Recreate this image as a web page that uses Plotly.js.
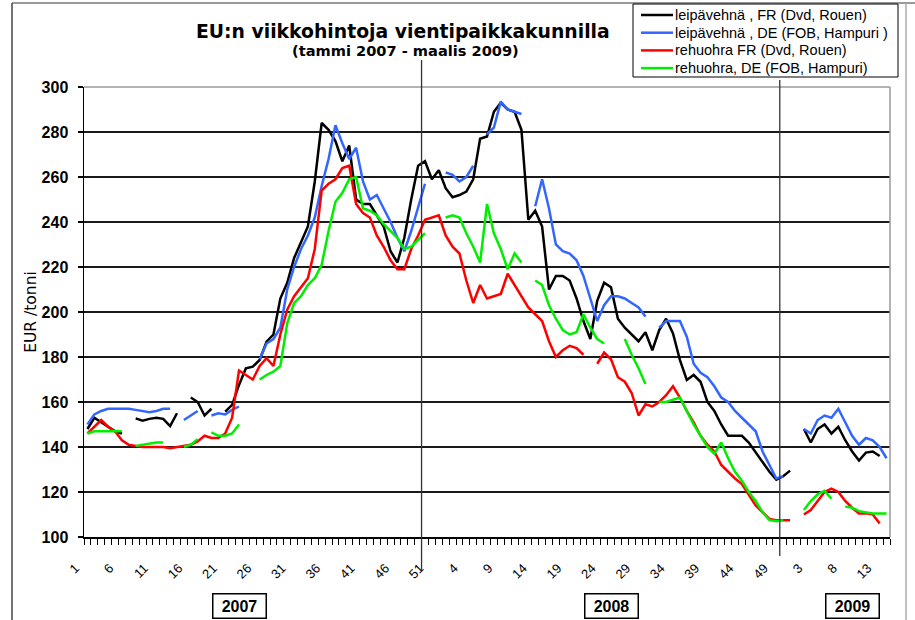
<!DOCTYPE html>
<html><head><meta charset="utf-8">
<script src="https://cdn.plot.ly/plotly-3.0.1.min.js"></script>
<style>html,body{margin:0;padding:0;background:#fff;} #chart{width:915px;height:620px;}</style>
</head><body><div id="chart"></div>
<script>
// Series names (legend)
const seriesNames = [
  'leipävehnä , FR (Dvd, Rouen)',
  'leipävehnä , DE (FOB, Hampuri )',
  'rehuohra FR (Dvd, Rouen)',
  'rehuohra, DE (FOB, Hampuri)'
];
const seriesColors = ['#000000', '#3366ff', '#ff0000', '#00ee00'];

// Weekly prices EUR/tonni, consecutive weeks Jan 2007 - Mar 2009 (null = no quote)
const wheatFR = [
  148,153,151,149,147,146,null,152.7,151.7,152.5,153,152.5,149.3,155,null,162,160,154,157,null,
  155.7,158.7,167.6,175,175.7,178.7,186.8,190,206,213,224,231,238,258,284,281,276,267,274,250,
  248,248,243,238,227,222,233,250,265,267,259,263,255,251,252,253.5,259,277,278,289,
  293,290,289,281,241,245,238,210,216,216,214,206,196,188,205,213,211,197,193,190,
  187,191,183,192,197,190.5,178.7,169.8,172,169,160,156,150,145,145,145,142,137.5,133.5,129,
  125.5,127,129.5,null,148,142,148,150,146,149,143,138,134,137.5,138,136,null
];
const wheatDE = [
  150,154.5,156,157,157,157,157,156.5,156,155.5,156,157,157,null,152,154,156,null,154,155,
  154.5,156.5,158,null,null,179,186,188,193,210,220,228,234,242,256,268,283,275,268,273,
  258,250,252,246,240,233,227,236,246,257,null,null,262,261,258,260,265,null,279,282,
  293.5,290,289,288,null,247,259,246,230,227,226,223,216,206,196,203,207,207,206,204,
  202,198,null,193,196,196,196,189,177,173,171,167,162,160,156,153,150,147,138,132,
  126,127,null,null,148,146,152,154,153,157,151,145,141,144,143,140,135
];
const barleyFR = [
  146,149,152,149,147,143,141,140.5,140,140,140,140,139.5,140,140.5,141,142.5,145,144,144,
  146,153,174,172,170,176,179.5,176,190,201,207,211,215,228,254,257,259,264,265,248,
  244,242,234,229,223,219,219,228,234,241,242,243,234,229,226,214,204,212,206,207,
  208,217,212,207,202,199,196,187,180,183,185,184,181,null,177,182,179,171,169,164,
  154,159,158,160,163,167,162,156,151,145,141,138,132,129,126,123.5,119,114,111,108,
  107.5,107.5,107.5,null,110,112,116,120,121.5,120,116,113,110.5,110.5,110,106,null
];
const barleyDE = [
  146,147,147,147,147,147,null,140.5,141,141.5,142,142,null,null,140,141,143.5,null,146.5,145,
  145,146,150,null,null,170,172,173.5,176,195,204,207,212,215,221,236,249,253,259,260,
  246,245,243,239,236,233,228,229,232,235,null,null,242,243,242,235,229,222,248,235,
  228,219,226,222,null,214,212,203,197,192,190,191,199,193,188,186,null,null,188,181,
  175,168,null,160,160,161,162,156,150,145,140,137,142,135,129,125,120,116,111,107.5,
  107,107.5,null,null,112,116,119,120.5,117,null,113.5,113,111.5,111,110.5,110.5,110.5
];

// Week tick labels (every 5th week) and year boxes
const tickLabels = ['1','6','11','16','21','26','31','36','41','46','51',
                    '4','9','14','19','24','29','34','39','44','49',
                    '3','8','13'];
const yearLabels = ['2007','2008','2009'];
const yearCenters = [23, 77, 112];
const yearSeparators = [49.5, 101.5];

const allSeries = [wheatFR, wheatDE, barleyFR, barleyDE];
const n = wheatFR.length;
const xIdx = Array.from({length: n}, (_, k) => k + 1);
const tickVals = tickLabels.map((_, k) => 1 + 5 * k);

const traces = allSeries.map((s, k) => ({
  type: 'scatter', mode: 'lines', x: xIdx, y: s, name: seriesNames[k],
  line: {color: seriesColors[k], width: 2.5}, connectgaps: false, hoverinfo: 'x+y'
}));

// pixel -> paper helpers (plot area: x 84..890, y 87..537)
const PX = px => (px - 84) / 806;
const PY = py => (537 - py) / 450;

const FONT = 'Liberation Sans, Arial, sans-serif';
const annotations = [
  {xref: 'paper', yref: 'paper', x: PX(403), y: PY(31), xanchor: 'center', yanchor: 'middle',
   text: 'EU:n viikkohintoja vientipaikkakunnilla', showarrow: false,
   font: {family: 'DejaVu Sans, sans-serif', size: 18.8, weight: 'bold', color: '#000'}},
  {xref: 'paper', yref: 'paper', x: PX(405), y: PY(51), xanchor: 'center', yanchor: 'middle',
   text: '(tammi 2007 - maalis 2009)', showarrow: false,
   font: {family: 'DejaVu Sans, sans-serif', size: 14.6, weight: 'bold', color: '#000'}}
];
yearLabels.forEach((t, k) => annotations.push({
  xref: 'x', yref: 'paper', x: yearCenters[k], y: PY(605.5), xanchor: 'center', yanchor: 'middle',
  text: '<b>' + t + '</b>', showarrow: false, width: 48, height: 19, borderpad: 2,
  bordercolor: '#000', borderwidth: 1.5, bgcolor: '#fff',
  font: {family: FONT, size: 16, color: '#000'}
}));

const shapes = [
  // plot area top / right border (grey)
  {type: 'line', xref: 'paper', yref: 'paper', x0: 0, x1: 1, y0: 1, y1: 1, line: {color: '#9a9a9a', width: 1.5}},
  {type: 'line', xref: 'paper', yref: 'paper', x0: 1, x1: 1, y0: 0, y1: 1, line: {color: '#9a9a9a', width: 1.5}},
  // outer frame
  {type: 'line', xref: 'paper', yref: 'paper', x0: PX(12), x1: PX(915), y0: PY(3), y1: PY(3), line: {color: '#777', width: 1.5}},
  {type: 'line', xref: 'paper', yref: 'paper', x0: PX(12), x1: PX(12), y0: PY(3), y1: PY(625), line: {color: '#444', width: 1.5}},
  {type: 'line', xref: 'paper', yref: 'paper', x0: PX(906), x1: PX(906), y0: PY(3), y1: PY(625), line: {color: '#aaa', width: 1.5}},
  // year separators
  {type: 'line', xref: 'x', yref: 'paper', x0: yearSeparators[0], x1: yearSeparators[0], y0: PY(60), y1: PY(570), line: {color: '#333', width: 1.3}},
  {type: 'line', xref: 'x', yref: 'paper', x0: yearSeparators[1], x1: yearSeparators[1], y0: PY(80), y1: PY(556), line: {color: '#333', width: 1.3}},
  // legend box
  {type: 'rect', xref: 'paper', yref: 'paper', x0: PX(633), x1: PX(898), y0: PY(4), y1: PY(77),
   line: {color: '#000', width: 1}, fillcolor: '#fff'}
];
// legend entries (line sample + text)
seriesNames.forEach((name, k) => {
  const py = 15 + k * 17.7;
  shapes.push({type: 'line', xref: 'paper', yref: 'paper', x0: PX(641), x1: PX(673), y0: PY(py), y1: PY(py),
               line: {color: seriesColors[k], width: 2.5}});
  annotations.push({xref: 'paper', yref: 'paper', x: PX(674), y: PY(py), xanchor: 'left', yanchor: 'middle',
                    text: name, showarrow: false, borderpad: 0,
                    font: {family: FONT, size: 14.5, color: '#000'}});
});

const layout = {
  width: 915, height: 620,
  margin: {l: 84, r: 25, t: 87, b: 83, pad: 0, autoexpand: false},
  paper_bgcolor: '#fff', plot_bgcolor: '#fff',
  font: {family: FONT, color: '#000'},
  showlegend: false,
  xaxis: {
    range: [0.5, n + 0.5], tickmode: 'array', tickvals: tickVals, ticktext: tickLabels,
    tickangle: -45, ticks: '', showgrid: false, zeroline: false, automargin: false,
    showline: true, linecolor: '#000', linewidth: 1.5,
    tickfont: {family: FONT, size: 13, color: '#000'}, ticklabelstandoff: 17, ticklabelshift: -12,
    minor: {tickmode: 'linear', tick0: 0.5, dtick: 1, ticks: 'outside', ticklen: 6, tickcolor: '#000', tickwidth: 1, showgrid: false}
  },
  yaxis: {
    range: [100, 300], tickmode: 'linear', tick0: 100, dtick: 20, automargin: false,
    showgrid: true, gridcolor: '#1a1a1a', gridwidth: 1.6, zeroline: false,
    showline: true, linecolor: '#000', linewidth: 1.5,
    ticks: 'outside', ticklen: 5, tickcolor: '#000', tickwidth: 1.3,
    tickfont: {family: FONT, size: 16, weight: 'bold', color: '#000'}, ticklabelstandoff: 6,
    title: {text: 'EUR /tonni', font: {family: 'DejaVu Sans, sans-serif', size: 15.5, color: '#000'}}
  },
  annotations: annotations,
  shapes: shapes
};

Plotly.newPlot('chart', traces, layout, {displayModeBar: false, staticPlot: true});
</script>
</body></html>
